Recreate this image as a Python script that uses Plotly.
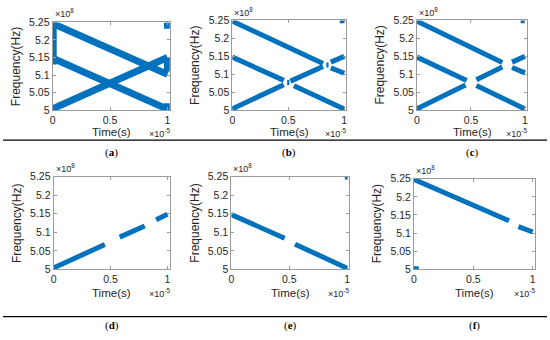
import plotly.graph_objects as go

# ---- data (time in units of 1e-5 s, frequency in units of 1e8 Hz) ----
panel_labels = ["a", "b", "c", "d", "e", "f"]
x_tick_vals = [0, 0.5, 1]
x_tick_text = ["0", "0.5", "1"]
y_tick_vals = [5.0, 5.05, 5.1, 5.15, 5.2, 5.25]
y_tick_text = ["5", "5.05", "5.1", "5.15", "5.2", "5.25"]

# segments per panel: start time, end time, start freq, end freq
a_t0 = [0.0, 0.0, 0.0, 0.005, 1.0, 1.0, 1.0, 0.0]
a_t1 = [1.0, 1.0, 1.0, 0.005, 1.0, 1.0, 1.0, 0.05]
a_f0 = [5.247, 5.148, 5.004, 5.13, 5.232, 5.0, 5.11, 5.004]
a_f1 = [5.102, 5.003, 5.150, 5.25, 5.25, 5.02, 5.15, 5.004]

b_t0 = [0.0, 0.88, 0.0, 0.55, 0.0, 0.52, 0.88, 0.49, 0.84, 0.96, 1.0, 0.0]
b_t1 = [0.81, 1.0, 0.46, 1.0, 0.46, 0.81, 1.0, 0.51, 0.86, 1.0, 1.0, 0.04]
b_f0 = [5.248, 5.118, 5.148, 5.068, 5.004, 5.081, 5.134, 5.077, 5.126, 5.249, 5.235, 5.004]
b_f1 = [5.130, 5.103, 5.083, 5.003, 5.071, 5.122, 5.150, 5.077, 5.126, 5.249, 5.235, 5.004]

c_t0 = [0.0, 0.88, 0.0, 0.55, 0.0, 0.55, 0.88, 0.96, 1.0, 0.0]
c_t1 = [0.79, 1.0, 0.46, 1.0, 0.45, 0.79, 1.0, 1.0, 1.0, 0.04]
c_f0 = [5.248, 5.119, 5.148, 5.069, 5.004, 5.085, 5.134, 5.249, 5.235, 5.004]
c_f1 = [5.133, 5.104, 5.083, 5.003, 5.070, 5.120, 5.150, 5.249, 5.235, 5.004]

d_t0 = [0.0, 0.58, 0.9]
d_t1 = [0.45, 0.8, 1.0]
d_f0 = [5.004, 5.087, 5.134]
d_f1 = [5.067, 5.117, 5.149]

e_t0 = [0.0, 0.55, 0.98]
e_t1 = [0.46, 1.0, 1.0]
e_f0 = [5.148, 5.068, 5.249]
e_f1 = [5.084, 5.003, 5.249]

f_t0 = [0.0, 0.88, 0.0]
f_t1 = [0.8, 1.0, 0.04]
f_f0 = [5.248, 5.118, 5.002]
f_f1 = [5.134, 5.103, 5.002]

panels = [
    (a_t0, a_t1, a_f0, a_f1),
    (b_t0, b_t1, b_f0, b_f1),
    (c_t0, c_t1, c_f0, c_f1),
    (d_t0, d_t1, d_f0, d_f1),
    (e_t0, e_t1, e_f0, e_f1),
    (f_t0, f_t1, f_f0, f_f1),
]

# ---- layout geometry (pixels) ----
W, H = 550, 340
boxes = [  # left, right, top, bottom
    (50, 168, 17, 108),
    (231, 346, 15, 108),
    (417, 528, 15, 108),
    (51, 168, 177, 273),
    (230, 349, 177, 273),
    (414, 536, 179, 273),
]
time_label_gap = [23, 23, 23, 24, 24, 24]
widths = [7, 5, 5, 5, 5, 5]
BLUE = "#0072BD"
TXT = "#262626"
AX = "#9a9a9a"
FONT = "Liberation Sans, Arial, sans-serif"

fig = go.Figure()
annotations = []
for i, ((t0, t1, f0, f1), (l, r, t, b)) in enumerate(zip(panels, boxes)):
    xs, ys = [], []
    for a0, a1, y0, y1 in zip(t0, t1, f0, f1):
        xs += [a0, a1, None]
        ys += [y0, y1, None]
    n = "" if i == 0 else str(i + 1)
    fig.add_trace(go.Scatter(x=xs, y=ys, mode="lines",
                             line=dict(color=BLUE, width=widths[i]),
                             xaxis="x" + n, yaxis="y" + n,
                             showlegend=False, hoverinfo="skip"))
    xd = [l / W, r / W]
    yd = [1 - b / H, 1 - t / H]
    common = dict(showline=True, linecolor=AX, linewidth=1, mirror="ticks",
                  ticks="inside", ticklen=3, tickcolor=AX, showgrid=False,
                  zeroline=False, tickfont=dict(family=FONT, size=10.5, color=TXT))
    fig.update_layout(**{
        "xaxis" + n: dict(domain=xd, range=[0, 1.02], tickvals=x_tick_vals,
                          ticktext=x_tick_text, anchor="y" + n, **common),
        "yaxis" + n: dict(domain=yd, range=[5.0, 5.25], tickvals=y_tick_vals,
                          ticktext=y_tick_text, anchor="x" + n, **common),
    })
    cx = (l + r) / 2 / W
    g = time_label_gap[i]
    annotations.append(dict(text="Time(s)", x=cx, y=1 - (b + g) / H,
                            xref="paper", yref="paper", showarrow=False,
                            xanchor="center", yanchor="middle",
                            font=dict(family=FONT, size=11.5, color=TXT)))
    annotations.append(dict(text="×10<sup>-5</sup>", x=(r + 2) / W, y=1 - (b + g + 1) / H,
                            xref="paper", yref="paper", showarrow=False,
                            xanchor="right", yanchor="middle",
                            font=dict(family=FONT, size=9, color=TXT)))
    annotations.append(dict(text="×10<sup>8</sup>", x=l / W, y=1 - (t - 1) / H,
                            xref="paper", yref="paper", showarrow=False,
                            xanchor="left", yanchor="bottom",
                            font=dict(family=FONT, size=9, color=TXT)))
    annotations.append(dict(text="Frequency(Hz)", x=(l - 37) / W, y=1 - (t + b) / 2 / H,
                            xref="paper", yref="paper", showarrow=False,
                            textangle=-90, xanchor="center", yanchor="middle",
                            font=dict(family=FONT, size=12, color=TXT)))
    row_label_y = 152 if i < 3 else 331
    annotations.append(dict(text="(<b>" + panel_labels[i] + "</b>)", x=cx,
                            y=1 - row_label_y / H, xref="paper", yref="paper",
                            showarrow=False, xanchor="center", yanchor="middle",
                            font=dict(family="Liberation Serif, Times New Roman, serif",
                                      size=11, color="#000")))

shapes = [
    dict(type="line", xref="paper", yref="paper", x0=0, x1=548 / W,
         y0=1 - 139 / H, y1=1 - 139 / H, line=dict(color="#000", width=1.2)),
    dict(type="line", xref="paper", yref="paper", x0=0, x1=548 / W,
         y0=1 - 322 / H, y1=1 - 322 / H, line=dict(color="#000", width=1.2)),
]

fig.update_layout(width=W, height=H, margin=dict(l=0, r=0, t=0, b=0),
                  paper_bgcolor="white", plot_bgcolor="white",
                  annotations=annotations, shapes=shapes)
fig.write_html("out.html", config={"displayModeBar": False},
               post_script="document.body.style.margin='0';document.body.style.overflow='hidden';")
